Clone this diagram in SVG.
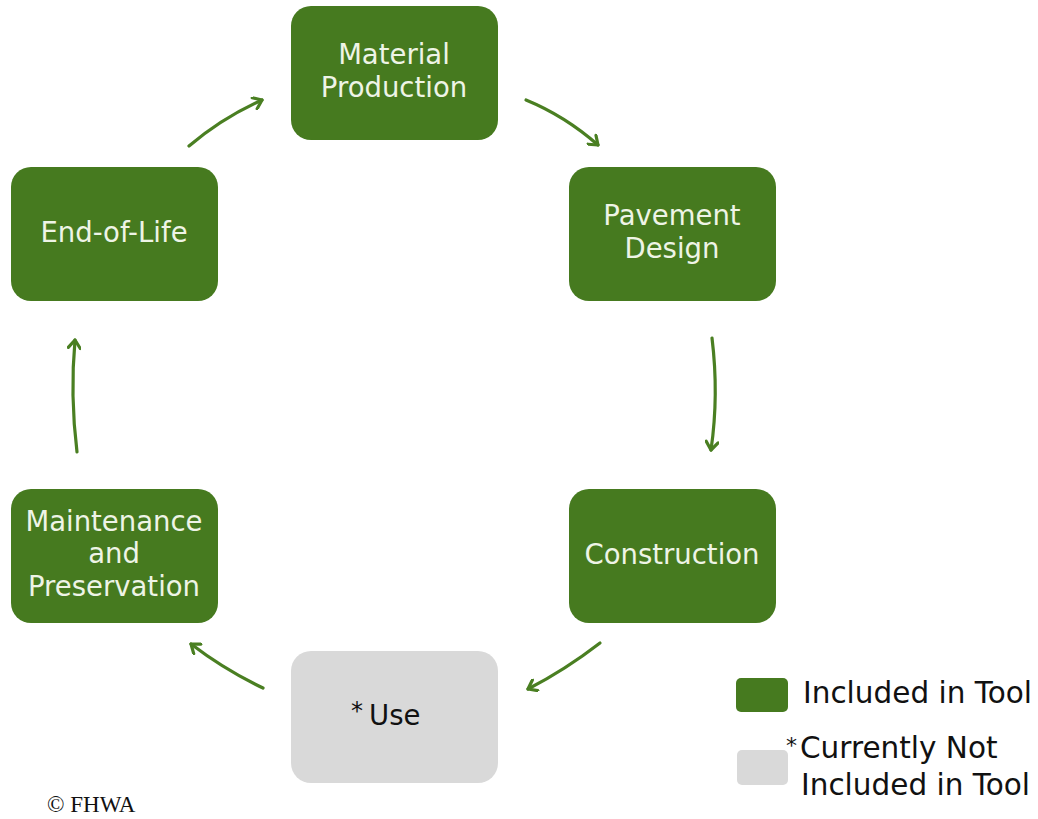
<svg xmlns="http://www.w3.org/2000/svg" width="1038" height="819" viewBox="0 0 1038 819">
<style>
.g{fill:#467a1f}
.u{fill:#d9d9d9}
.t{font-family:"DejaVu Sans",Verdana,sans-serif;font-size:27.5px;fill:#eef4e6;text-anchor:middle}
.k{font-family:"DejaVu Sans",Verdana,sans-serif;font-size:29.5px;fill:#111}
.c{fill:none;stroke:#4a7f22;stroke-width:3.2;stroke-linecap:round}
</style>
<defs>
<marker id="a" markerWidth="14" markerHeight="14" refX="10" refY="7" orient="auto" markerUnits="userSpaceOnUse">
<path d="M2,1 L10,7 L2,13" fill="none" stroke="#4a7f22" stroke-width="3.2" stroke-linecap="round" stroke-linejoin="round"/>
</marker>
</defs>
<rect width="1038" height="819" fill="#fff"/>
<g id="connectors">
<path class="c" d="M189,146 Q222,118 262,100" marker-end="url(#a)"/>
<path class="c" d="M526,100 Q565,116 598,145" marker-end="url(#a)"/>
<path class="c" d="M712,338 Q719,395 711,450" marker-end="url(#a)"/>
<path class="c" d="M600,643 Q565,670 528,689" marker-end="url(#a)"/>
<path class="c" d="M263,688 Q225,670 191,644" marker-end="url(#a)"/>
<path class="c" d="M77,452 Q70,395 75,340" marker-end="url(#a)"/>
</g>
<g id="material-production">
<rect class="g" x="291" y="6" width="207" height="134" rx="20"/>
<text class="t" x="394" y="64">Material</text>
<text class="t" x="394" y="97">Production</text>
</g>
<g id="pavement-design">
<rect class="g" x="569" y="167" width="207" height="134" rx="20"/>
<text class="t" x="672" y="225">Pavement</text>
<text class="t" x="672" y="258">Design</text>
</g>
<g id="construction">
<rect class="g" x="569" y="489" width="207" height="134" rx="20"/>
<text class="t" x="672" y="564">Construction</text>
</g>
<g id="use">
<rect class="u" x="291" y="651" width="207" height="132" rx="20"/>
<text x="351" y="719" font-family="DejaVu Sans,sans-serif" font-size="24" fill="#111">*</text>
<text x="369" y="725" font-family="DejaVu Sans,sans-serif" font-size="27.5" fill="#111">Use</text>
</g>
<g id="maintenance-and-preservation">
<rect class="g" x="11" y="489" width="207" height="134" rx="20"/>
<text class="t" x="114" y="531">Maintenance</text>
<text class="t" x="114" y="563">and</text>
<text class="t" x="114" y="596">Preservation</text>
</g>
<g id="end-of-life">
<rect class="g" x="11" y="167" width="207" height="134" rx="20"/>
<text class="t" x="114" y="242">End-of-Life</text>
</g>
<g id="legend">
<rect class="g" x="736" y="678" width="52" height="34" rx="5"/>
<rect class="u" x="737" y="750" width="51" height="35" rx="5"/>
<text class="k" x="803" y="703">Included in Tool</text>
<text x="786" y="753" font-family="DejaVu Sans,sans-serif" font-size="22" fill="#111">*</text>
<text class="k" x="800" y="758">Currently Not</text>
<text class="k" x="801" y="795">Included in Tool</text>
</g>
<text x="47" y="812" font-family="Liberation Serif,serif" font-size="23" fill="#111">© FHWA</text>
</svg>
